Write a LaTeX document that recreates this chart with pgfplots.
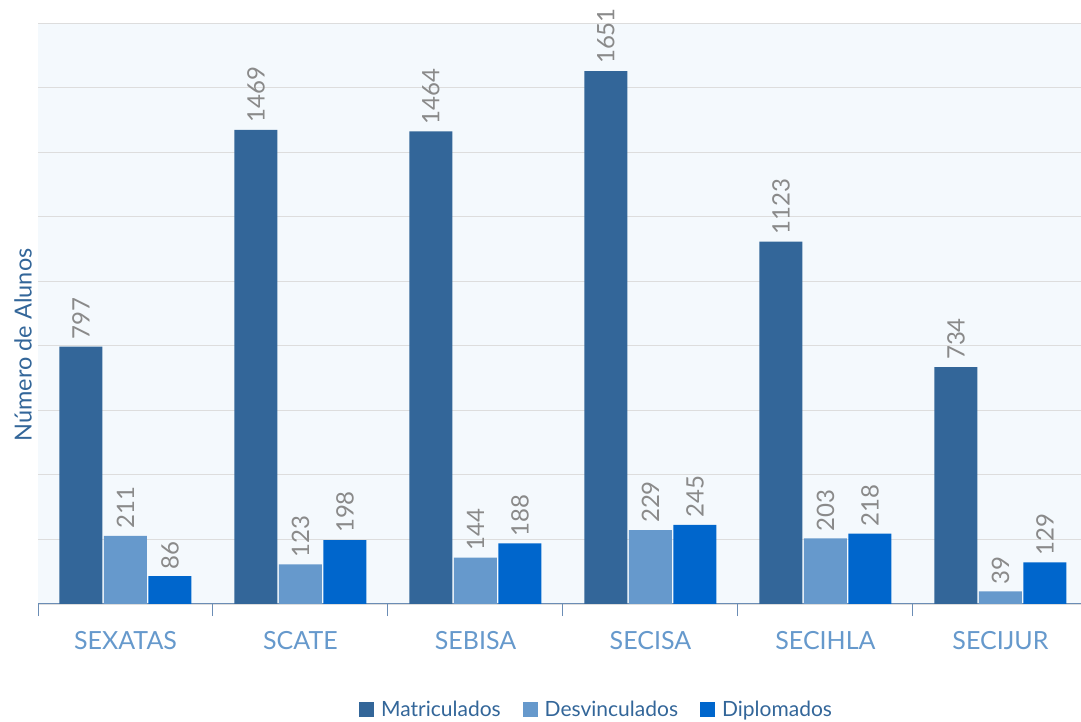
\documentclass[border=0pt]{standalone}
\usepackage{fontspec}
\setmainfont{Lato}
\usepackage{pgfplots}
\pgfplotsset{compat=1.18}

\definecolor{matc}{HTML}{336699}
\definecolor{desc}{HTML}{6699CC}
\definecolor{dipc}{HTML}{0066CC}
\definecolor{bgc}{HTML}{F4F9FD}
\definecolor{gridc}{HTML}{DDDDDD}
\definecolor{axc}{HTML}{6B8DB5}
\definecolor{valc}{HTML}{8A8A8A}

\pgfplotstableread{
x mat des dip
0 797  211 86
1 1469 123 198
2 1464 144 188
3 1651 229 245
4 1123 203 218
5 734  39  129
}\alunos

\begin{document}
\begin{tikzpicture}
\begin{axis}[
  scale only axis, width=1050pt, height=581pt,
  xmin=-0.5, xmax=5.5, ymin=0, ymax=1800,
  ybar=1.5pt, bar width=43pt,
  axis background/.style={fill=bgc},
  axis lines=left,
  x axis line style={draw=axc, line width=1pt, -},
  y axis line style={draw=none},
  ytick={0,200,...,1800}, yticklabels={},
  ymajorgrids, grid style={gridc, line width=0.8pt},
  major tick length=0pt,
  xtick={0,...,5},
  xticklabels={SEXATAS,SCATE,SEBISA,SECISA,SECIHLA,SECIJUR},
  minor xtick={-0.5,0.5,...,5.5},
  minor tick length=12pt,
  tick align=outside,
  minor tick style={draw=axc, line width=1pt},
  xticklabel style={font=\fontsize{25}{29}\selectfont, text=desc, yshift=-24pt},
  ylabel={Número de Alunos},
  ylabel style={at={(axis description cs:-0.0143,0.446)}, anchor=center,
    font=\fontsize{23.5}{27}\selectfont, text=matc},
  /pgf/number format/assume math mode=true,
  /pgf/number format/1000 sep={},
  nodes near coords,
  every node near coord/.append style={rotate=90, anchor=west,
    font=\fontsize{24}{28}\selectfont, text=valc, inner xsep=7pt},
  legend columns=3,
  legend style={at={(axis description cs:0.532,-0.182)}, anchor=center,
    draw=none, fill=none, font=\fontsize{21}{25}\selectfont, text=matc,
    /tikz/every odd column/.append style={column sep=5pt},
    /tikz/every even column/.append style={column sep=20pt}},
  legend image code/.code={\path[#1] (0pt,-7.5pt) rectangle (15pt,7.5pt);},
]
\addplot[fill=matc, draw=none] table[x=x, y=mat] {\alunos};
\addplot[fill=desc, draw=none] table[x=x, y=des] {\alunos};
\addplot[fill=dipc, draw=none] table[x=x, y=dip] {\alunos};
\legend{Matriculados, Desvinculados, Diplomados}
\end{axis}
\pgfresetboundingbox
\useasboundingbox (-38pt,-118pt) rectangle (1043pt,604pt);
\end{tikzpicture}
\end{document}
